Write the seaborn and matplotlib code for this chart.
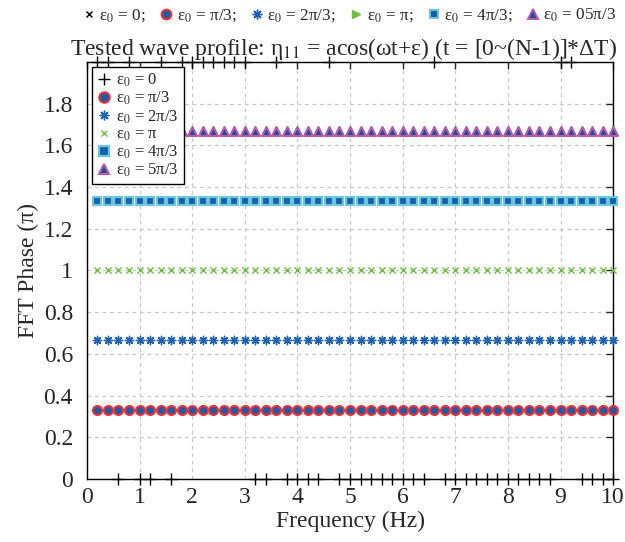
import numpy as np
import pandas as pd
import matplotlib
matplotlib.use("Agg")
import matplotlib.pyplot as plt
from matplotlib.lines import Line2D
import seaborn as sns

# ---- data ----
freq = [round(0.2 * k, 1) for k in range(1, 51)]
top_freqs = [0.2, 0.4, 0.8, 1.4, 1.8, 2.0, 2.2, 2.4, 2.6, 2.8, 3.0, 3.6, 4.6, 6.6, 9.0, 9.2]
phase_e0 = [2.0 if f in top_freqs else 0.0 for f in freq]
phase_pi3 = [1/3] * 50
phase_2pi3 = [2/3] * 50
phase_pi = [1.0] * 50
phase_4pi3 = [4/3] * 50
phase_5pi3 = [5/3] * 50

labels = ["ε$_0$ = 0", "ε$_0$ = π/3", "ε$_0$ = 2π/3", "ε$_0$ = π", "ε$_0$ = 4π/3", "ε$_0$ = 5π/3"]
top_labels = ["ε$_0$ = 0;", "ε$_0$ = π/3;", "ε$_0$ = 2π/3;", "ε$_0$ = π;", "ε$_0$ = 4π/3;", "ε$_0$ = 05π/3"]
xticks = list(range(0, 11))
yticks = [0, 0.2, 0.4, 0.6, 0.8, 1.0, 1.2, 1.4, 1.6, 1.8]
ytick_labels = ["0", "0.2", "0.4", "0.6", "0.8", "1", "1.2", "1.4", "1.6", "1.8"]

sns.set_style("white")
plt.rcParams["font.family"] = ["Liberation Serif", "DejaVu Serif"]
plt.rcParams["mathtext.fontset"] = "stix"

fig = plt.figure(figsize=(6.25, 5.42), dpi=100)
ax = fig.add_axes([0.139, 0.116, 0.842, 0.770])

star = (8, 2, 0)
styles = [
    dict(marker="+", s=70, color="black", linewidth=1.0),
    dict(marker="o", s=42, facecolor="#1a5ca6", edgecolor="#e8323c", linewidth=1.5),
    dict(marker=star, s=36, color="#1f62b0", linewidth=1.0),
    dict(marker="x", s=20, color="#6fbf45", linewidth=1.0),
    dict(marker="s", s=30, facecolor="#1560ad", edgecolor="#6cc5dc", linewidth=1.6),
    dict(marker="^", s=42, facecolor="#1d4f9a", edgecolor="#b65aa8", linewidth=1.5),
]
series = [phase_e0, phase_pi3, phase_2pi3, phase_pi, phase_4pi3, phase_5pi3]

for vals, st in zip(series, styles):
    df = pd.DataFrame({"f": freq, "p": vals})
    sns.scatterplot(data=df, x="f", y="p", ax=ax, legend=False, clip_on=False, zorder=3, **st)

ax.set_xlim(0, 10)
ax.set_ylim(0, 2)
ax.set_xticks(xticks)
ax.set_yticks(yticks)
ax.set_yticklabels(ytick_labels)
ax.tick_params(direction="in", top=True, right=True, length=5, width=1, labelsize=17, pad=6)
ax.tick_params(axis="y", pad=10)
ax.grid(True, linestyle=(0, (3, 3)), color="#c8c8c8", linewidth=0.9)
for sp in ax.spines.values():
    sp.set_visible(True)
    sp.set_color("black")
    sp.set_linewidth(1.0)
ax.set_xlabel("Frequency (Hz)", fontsize=17, labelpad=2)
ax.set_ylabel("FFT Phase (π)", fontsize=17, labelpad=3)
ax.set_title("Tested wave profile: η$_{11}$ = acos(ωt+ε) (t = [0~(N-1)]*ΔT)", fontsize=17, pad=5, x=0.487)

def handle(st, ms):
    mk = st["marker"]
    if "facecolor" in st:
        return Line2D([], [], linestyle="", marker=mk, markersize=ms, markerfacecolor=st["facecolor"],
                      markeredgecolor=st["edgecolor"], markeredgewidth=st["linewidth"])
    return Line2D([], [], linestyle="", marker=mk, markersize=ms, color=st["color"],
                  markeredgewidth=st["linewidth"])

hs = [handle(st, m) for st, m in zip(styles, [8, 7.5, 7, 5, 6.5, 7.5])]
leg = ax.legend(hs, labels, loc="upper left", bbox_to_anchor=(0.0, 1.0), fontsize=12,
                frameon=True, fancybox=False, edgecolor="black", framealpha=1.0, handlelength=0.8,
                handletextpad=0.35, borderpad=0.3, labelspacing=0.05, borderaxespad=0.3)
leg.get_frame().set_linewidth(1.0)

top_styles = [
    dict(marker="x", color="black", linewidth=1.0),
    dict(marker="o", facecolor="#1a5ca6", edgecolor="#e8323c", linewidth=1.5),
    dict(marker=star, color="#1f62b0", linewidth=1.0),
    dict(marker=">", color="#6fbf45", linewidth=1.0),
    dict(marker="s", facecolor="#1560ad", edgecolor="#6cc5dc", linewidth=1.4),
    dict(marker="^", facecolor="#1d4f9a", edgecolor="#b65aa8", linewidth=1.4),
]
ths = [handle(st, m) for st, m in zip(top_styles, [5, 7, 7, 6, 6, 7])]
fig.legend(ths, top_labels, loc="upper center", bbox_to_anchor=(0.56, 1.016), ncol=6, frameon=False,
           fontsize=12.3, handlelength=0.6, handletextpad=0.3, columnspacing=0.9)

fig.savefig("out.png", dpi=100)
